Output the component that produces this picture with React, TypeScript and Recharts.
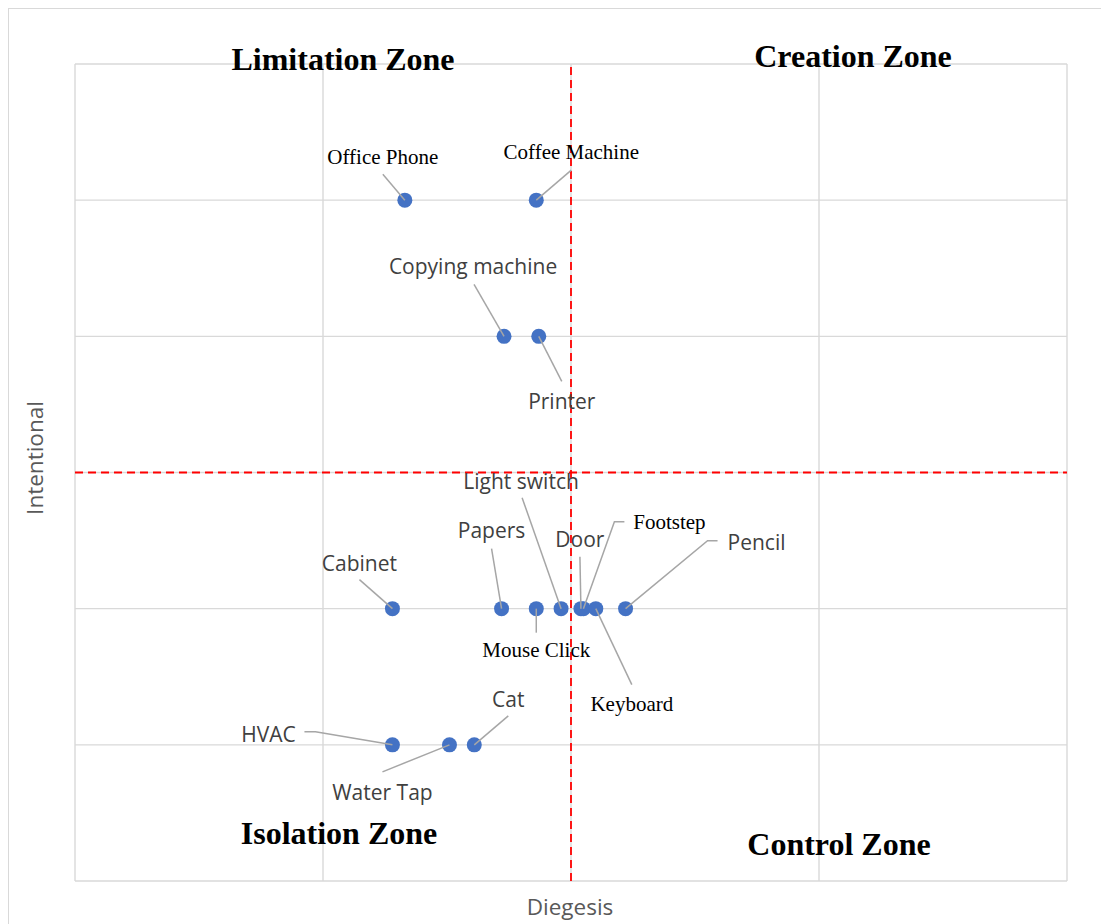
import { ScatterChart, Scatter, XAxis, YAxis, CartesianGrid, ReferenceLine } from "recharts";

// sound sources placed on the diegesis / intentional grid
const NAMES = [
  "Office Phone", "Coffee Machine", "Copying machine", "Printer", "Cabinet",
  "Papers", "Mouse Click", "Light switch", "Door", "Footstep", "Keyboard",
  "Pencil", "HVAC", "Water Tap", "Cat",
];
const DIEGESIS = [1.33, 1.86, 1.73, 1.87, 1.28, 1.72, 1.86, 1.96, 2.04, 2.05, 2.1, 2.22, 1.28, 1.51, 1.61];
const INTENTIONAL = [5, 5, 4, 4, 2, 2, 2, 2, 2, 2, 2, 2, 1, 1, 1];
const SERIF_LABELS = ["Office Phone", "Coffee Machine", "Mouse Click", "Footstep", "Keyboard"];

const X_TICKS = [0, 1, 2, 3, 4];
const Y_TICKS = [0, 1, 2, 3, 4, 5, 6];

const data = NAMES.map((name, i) => ({ name, x: DIEGESIS[i], y: INTENTIONAL[i] }));

// label placement, offsets from the dot centre: text centre + leader line points
const LABEL_LAYOUT: Record<string, { t: [number, number]; lead: [number, number][] }> = {
  "Office Phone": { t: [-22, -43], lead: [[-22, -26]] },
  "Coffee Machine": { t: [35, -48], lead: [[35, -30]] },
  "Copying machine": { t: [-31, -70], lead: [[-30, -52]] },
  Printer: { t: [23, 65], lead: [[23, 45]] },
  Cabinet: { t: [-33, -46], lead: [[-33, -29]] },
  Papers: { t: [-10, -79], lead: [[-10, -60]] },
  "Mouse Click": { t: [0, 41], lead: [[0, 24]] },
  "Light switch": { t: [-40, -128], lead: [[-39, -111]] },
  Door: { t: [-1, -70], lead: [[-1, -52]] },
  Footstep: { t: [86, -87], lead: [[41, -87], [31, -87]] },
  Keyboard: { t: [36, 95], lead: [[36, 76]] },
  Pencil: { t: [131, -67], lead: [[92, -68], [82, -68]] },
  HVAC: { t: [-124, -11], lead: [[-88, -13], [-77, -13]] },
  "Water Tap": { t: [-67, 47], lead: [[-67, 27]] },
  Cat: { t: [34, -46], lead: [[34, -29]] },
};

const BLUE = "#4472c4";
const GRID = "#d9d9d9";
const SANS = "'Open Sans', sans-serif";
const SERIF = "'Liberation Serif', 'Times New Roman', serif";

function Dot(props: any) {
  return <circle cx={props.cx} cy={props.cy} r={7.5} fill={BLUE} />;
}

function Callout(props: any) {
  const { cx, cy, payload } = props;
  const lay = LABEL_LAYOUT[payload.name];
  if (!lay) return null;
  const pts = [...lay.lead.map(([dx, dy]) => `${cx + dx},${cy + dy}`), `${cx},${cy}`].join(" ");
  const serif = SERIF_LABELS.includes(payload.name);
  return (
    <g>
      <polyline points={pts} fill="none" stroke="#a6a6a6" strokeWidth={1.5} />
      <text
        x={cx + lay.t[0]}
        y={cy + lay.t[1]}
        textAnchor="middle"
        dominantBaseline="central"
        fontFamily={serif ? SERIF : SANS}
        fontSize={serif ? 21 : 21}
        fill={serif ? "#000" : "#404040"}
      >
        {payload.name}
      </text>
    </g>
  );
}

const zoneStyle: React.CSSProperties = {
  position: "absolute",
  fontFamily: SERIF,
  fontWeight: "bold",
  fontSize: 32,
  color: "#000",
  transform: "translateX(-50%)",
  whiteSpace: "nowrap",
  lineHeight: 1,
};

const axisTitle: React.CSSProperties = {
  position: "absolute",
  fontFamily: SANS,
  fontSize: 22.5,
  color: "#595959",
  lineHeight: 1,
  whiteSpace: "nowrap",
};

export default function App() {
  return (
    <div style={{ position: "fixed", left: 0, top: 0, width: 1101, height: 924, overflow: "hidden", background: "#fff" }}>
      <div
        style={{
          position: "absolute", left: 8, top: 8, width: 1100, height: 930,
          borderTop: `1.5px solid ${GRID}`, borderLeft: `1.5px solid ${GRID}`,
        }}
      />
      <ScatterChart
        width={1101}
        height={924}
        margin={{ top: 64, right: 34, bottom: 43, left: 75 }}
        style={{ position: "absolute", left: 0, top: 0 }}
      >
        <CartesianGrid stroke={GRID} strokeWidth={1.4} />
        <XAxis type="number" dataKey="x" domain={[0, 4]} ticks={X_TICKS} hide />
        <YAxis type="number" dataKey="y" domain={[0, 6]} ticks={Y_TICKS} hide />
        <ReferenceLine x={2} stroke="#ff0000" strokeWidth={1.8} strokeDasharray="8 5" />
        <ReferenceLine y={3} stroke="#ff0000" strokeWidth={1.8} strokeDasharray="8 5" />
        <Scatter data={data} shape={Dot} isAnimationActive={false} />
        <Scatter data={data} shape={Callout} isAnimationActive={false} />
      </ScatterChart>

      <div style={{ ...zoneStyle, left: 343, top: 43 }}>Limitation Zone</div>
      <div style={{ ...zoneStyle, left: 853, top: 40 }}>Creation Zone</div>
      <div style={{ ...zoneStyle, left: 339, top: 817 }}>Isolation Zone</div>
      <div style={{ ...zoneStyle, left: 839, top: 828 }}>Control Zone</div>

      <div style={{ ...axisTitle, left: 570, top: 896, transform: "translateX(-50%)" }}>Diegesis</div>
      <div style={{ ...axisTitle, left: 35, top: 458, transform: "translate(-50%, -50%) rotate(-90deg)" }}>
        Intentional
      </div>
    </div>
  );
}
